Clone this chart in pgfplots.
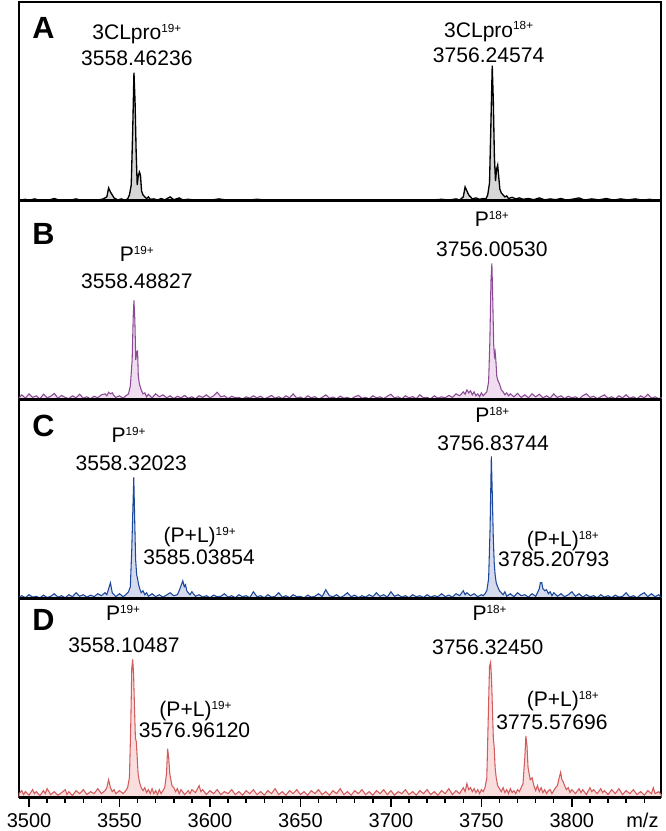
\documentclass[border=0pt]{standalone}
\usepackage{fontspec}
\setmainfont{Liberation Sans}
\usepackage{pgfplots}
\usepackage{pgfplotstable}
\pgfplotsset{compat=1.18}

\definecolor{fA}{RGB}{215,215,215}
\definecolor{cB}{RGB}{140,74,150}
\definecolor{fB}{RGB}{240,222,240}
\definecolor{cC}{RGB}{28,72,155}
\definecolor{fC}{RGB}{213,218,238}
\definecolor{cD}{RGB}{210,92,92}
\definecolor{fD}{RGB}{250,222,222}

\newcommand\sps[1]{\raisebox{5.3pt}{\fontsize{8.8}{9}\selectfont #1}}

% panel A: 3CLpro
\pgfplotstableread[row sep=\\]{
x y\\
3494.5 0.003\\ 3498 0.008\\ 3500 0.002\\ 3503 0.01\\ 3506 0.003\\ 3510 0.002\\ 3514 0.012\\ 3517 0.003\\
3522 0.002\\ 3526 0.01\\ 3529 0.002\\ 3534 0.003\\ 3538 0.004\\ 3541 0.01\\ 3543 0.02\\ 3544 0.065\\
3545 0.045\\ 3546 0.03\\ 3547 0.015\\ 3548 0.01\\ 3549 0.005\\ 3551 0.01\\ 3553 0.004\\ 3554.5 0.01\\
3555.5 0.03\\ 3556.5 0.08\\ 3557.3 0.35\\ 3558 0.645\\ 3558.6 0.5\\ 3559.2 0.25\\ 3559.8 0.08\\ 3560.3 0.12\\
3561 0.145\\ 3561.6 0.13\\ 3562.2 0.05\\ 3563 0.03\\ 3564 0.02\\ 3565 0.012\\ 3566 0.02\\ 3567 0.008\\
3569 0.01\\ 3571 0.004\\ 3573 0.012\\ 3575 0.005\\ 3578 0.02\\ 3580 0.006\\ 3583 0.015\\ 3585 0.005\\
3588 0.008\\ 3592 0.004\\ 3596 0.006\\ 3600 0.003\\ 3605 0.01\\ 3610 0.003\\ 3615 0.006\\ 3620 0.003\\
3626 0.008\\ 3632 0.003\\ 3638 0.004\\ 3644 0.003\\ 3650 0.006\\ 3656 0.003\\ 3662 0.005\\ 3668 0.003\\
3675 0.006\\ 3682 0.003\\ 3690 0.004\\ 3697 0.003\\ 3704 0.005\\ 3710 0.003\\ 3716 0.006\\ 3722 0.004\\
3728 0.008\\ 3732 0.004\\ 3736 0.01\\ 3738 0.005\\ 3740 0.02\\ 3741 0.07\\ 3742 0.05\\ 3743 0.03\\
3744 0.02\\ 3745 0.01\\ 3747 0.015\\ 3749 0.008\\ 3751 0.012\\ 3752.5 0.01\\ 3753.5 0.03\\ 3754.5 0.09\\
3755.3 0.4\\ 3756 0.68\\ 3756.6 0.5\\ 3757.2 0.22\\ 3757.8 0.1\\ 3758.4 0.16\\ 3759 0.18\\ 3759.6 0.12\\
3760.2 0.06\\ 3761 0.04\\ 3762 0.03\\ 3763 0.02\\ 3764 0.025\\ 3765 0.012\\ 3767 0.018\\ 3769 0.01\\
3771 0.015\\ 3773 0.008\\ 3776 0.012\\ 3779 0.006\\ 3782 0.015\\ 3785 0.005\\ 3788 0.01\\ 3791 0.006\\
3794 0.012\\ 3797 0.004\\ 3800 0.008\\ 3804 0.015\\ 3807 0.004\\ 3811 0.01\\ 3815 0.005\\ 3819 0.012\\
3823 0.004\\ 3827 0.01\\ 3831 0.005\\ 3835 0.01\\ 3839 0.004\\ 3843 0.008\\ 3846 0.003\\ 3849.3 0.005\\
}\tabA

% panel B: P
\pgfplotstableread[row sep=\\]{
x y\\
3494.5 0.01\\ 3496 0.025\\ 3498 0.008\\ 3500 0.03\\ 3502 0.012\\ 3504 0.02\\ 3506 0.005\\ 3508 0.028\\
3510 0.01\\ 3512 0.018\\ 3514 0.032\\ 3516 0.008\\ 3518 0.022\\ 3520 0.012\\ 3522 0.006\\ 3524 0.02\\
3526 0.01\\ 3528 0.028\\ 3530 0.008\\ 3532 0.015\\ 3534 0.005\\ 3536 0.018\\ 3538 0.01\\ 3540 0.025\\
3542 0.03\\ 3543 0.02\\ 3544 0.038\\ 3545 0.03\\ 3546 0.035\\ 3547 0.02\\ 3548 0.012\\ 3550 0.02\\
3552 0.008\\ 3553.5 0.02\\ 3555 0.03\\ 3556 0.07\\ 3557 0.2\\ 3557.6 0.42\\ 3558 0.5\\ 3558.5 0.4\\
3559 0.2\\ 3559.5 0.24\\ 3560 0.245\\ 3560.4 0.12\\ 3561 0.08\\ 3562 0.05\\ 3563 0.03\\ 3564 0.035\\
3565 0.015\\ 3566 0.028\\ 3568 0.01\\ 3570 0.03\\ 3572 0.015\\ 3574 0.025\\ 3576 0.01\\ 3578 0.02\\
3580 0.006\\ 3582 0.018\\ 3584 0.01\\ 3586 0.022\\ 3588 0.008\\ 3590 0.015\\ 3592 0.005\\ 3594 0.02\\
3596 0.012\\ 3598 0.025\\ 3600 0.01\\ 3602 0.02\\ 3604 0.038\\ 3606 0.015\\ 3608 0.02\\ 3610 0.006\\
3612 0.018\\ 3614 0.01\\ 3616 0.012\\ 3618 0.004\\ 3620 0.015\\ 3622 0.008\\ 3624 0.02\\ 3626 0.01\\
3628 0.018\\ 3630 0.005\\ 3632 0.012\\ 3634 0.022\\ 3636 0.008\\ 3638 0.015\\ 3640 0.006\\ 3642 0.02\\
3644 0.01\\ 3646 0.03\\ 3648 0.008\\ 3650 0.014\\ 3652 0.005\\ 3654 0.02\\ 3656 0.01\\ 3658 0.016\\
3660 0.004\\ 3662 0.012\\ 3664 0.025\\ 3666 0.008\\ 3668 0.014\\ 3670 0.005\\ 3672 0.018\\ 3674 0.008\\
3676 0.012\\ 3678 0.004\\ 3680 0.015\\ 3682 0.022\\ 3684 0.008\\ 3686 0.012\\ 3688 0.005\\ 3690 0.02\\
3692 0.01\\ 3694 0.015\\ 3696 0.006\\ 3698 0.018\\ 3700 0.028\\ 3702 0.01\\ 3704 0.015\\ 3706 0.005\\
3708 0.02\\ 3710 0.01\\ 3712 0.016\\ 3714 0.006\\ 3716 0.025\\ 3718 0.01\\ 3720 0.012\\ 3722 0.005\\
3724 0.02\\ 3726 0.008\\ 3728 0.015\\ 3730 0.01\\ 3732 0.022\\ 3734 0.012\\ 3736 0.03\\ 3738 0.02\\
3740 0.04\\ 3741 0.028\\ 3742 0.05\\ 3743 0.035\\ 3744 0.045\\ 3745 0.025\\ 3746 0.04\\ 3747 0.02\\
3748 0.03\\ 3749 0.015\\ 3750 0.035\\ 3751 0.02\\ 3752 0.03\\ 3753 0.04\\ 3754 0.09\\ 3754.7 0.3\\
3755.3 0.6\\ 3755.8 0.686\\ 3756.3 0.5\\ 3756.8 0.28\\ 3757.2 0.22\\ 3757.6 0.24\\ 3758 0.2\\ 3758.5 0.12\\
3759 0.1\\ 3760 0.08\\ 3761 0.05\\ 3762 0.04\\ 3763 0.025\\ 3764 0.035\\ 3765 0.02\\ 3766 0.03\\
3768 0.015\\ 3770 0.032\\ 3772 0.012\\ 3774 0.025\\ 3776 0.01\\ 3778 0.03\\ 3780 0.015\\ 3782 0.028\\
3784 0.01\\ 3786 0.02\\ 3788 0.008\\ 3790 0.03\\ 3792 0.012\\ 3794 0.02\\ 3796 0.006\\ 3798 0.018\\
3800 0.01\\ 3802 0.015\\ 3804 0.005\\ 3806 0.02\\ 3808 0.03\\ 3810 0.012\\ 3812 0.018\\ 3814 0.006\\
3816 0.015\\ 3818 0.025\\ 3820 0.008\\ 3822 0.015\\ 3824 0.005\\ 3826 0.02\\ 3828 0.01\\ 3830 0.025\\
3832 0.008\\ 3834 0.015\\ 3836 0.005\\ 3838 0.02\\ 3840 0.01\\ 3842 0.028\\ 3844 0.008\\ 3846 0.015\\
3848 0.006\\ 3849.3 0.01\\
}\tabB

% panel C: P + ligand
\pgfplotstableread[row sep=\\]{
x y\\
3494.5 0.008\\ 3496 0.015\\ 3498 0.005\\ 3500 0.02\\ 3502 0.008\\ 3504 0.012\\ 3506 0.004\\ 3508 0.018\\
3510 0.006\\ 3512 0.012\\ 3514 0.025\\ 3516 0.008\\ 3518 0.015\\ 3520 0.005\\ 3522 0.02\\ 3524 0.01\\
3526 0.03\\ 3528 0.012\\ 3530 0.02\\ 3532 0.008\\ 3534 0.018\\ 3536 0.01\\ 3538 0.025\\ 3540 0.015\\
3542 0.03\\ 3543 0.02\\ 3544 0.05\\ 3545 0.08\\ 3546 0.03\\ 3547 0.02\\ 3548 0.01\\ 3550 0.025\\
3552 0.01\\ 3553.5 0.02\\ 3555 0.035\\ 3556 0.06\\ 3556.8 0.25\\ 3557.4 0.45\\ 3557.9 0.61\\ 3558.4 0.4\\
3558.9 0.2\\ 3559.5 0.12\\ 3560 0.1\\ 3560.6 0.07\\ 3561.2 0.05\\ 3562 0.03\\ 3563 0.04\\ 3564 0.02\\
3565 0.03\\ 3566 0.012\\ 3568 0.025\\ 3570 0.01\\ 3572 0.02\\ 3574 0.008\\ 3576 0.018\\ 3578 0.03\\
3580 0.015\\ 3582 0.02\\ 3583 0.04\\ 3584 0.065\\ 3585 0.09\\ 3585.8 0.06\\ 3586.5 0.07\\ 3587.2 0.04\\
3588 0.03\\ 3589 0.02\\ 3590 0.035\\ 3592 0.012\\ 3594 0.02\\ 3596 0.008\\ 3598 0.015\\ 3600 0.005\\
3602 0.018\\ 3604 0.01\\ 3606 0.012\\ 3608 0.025\\ 3610 0.008\\ 3612 0.015\\ 3614 0.005\\ 3616 0.02\\
3618 0.01\\ 3620 0.015\\ 3622 0.005\\ 3624 0.035\\ 3626 0.01\\ 3628 0.015\\ 3630 0.005\\ 3632 0.02\\
3634 0.008\\ 3636 0.012\\ 3638 0.03\\ 3640 0.008\\ 3642 0.015\\ 3644 0.005\\ 3646 0.02\\ 3648 0.01\\
3650 0.012\\ 3652 0.004\\ 3654 0.018\\ 3656 0.008\\ 3658 0.012\\ 3660 0.025\\ 3662 0.01\\ 3664 0.045\\
3666 0.015\\ 3668 0.01\\ 3670 0.02\\ 3672 0.006\\ 3674 0.015\\ 3676 0.03\\ 3678 0.01\\ 3680 0.018\\
3682 0.005\\ 3684 0.015\\ 3686 0.008\\ 3688 0.02\\ 3690 0.01\\ 3692 0.03\\ 3694 0.012\\ 3696 0.02\\
3698 0.008\\ 3700 0.035\\ 3702 0.012\\ 3704 0.02\\ 3706 0.008\\ 3708 0.015\\ 3710 0.005\\ 3712 0.02\\
3714 0.01\\ 3716 0.015\\ 3718 0.006\\ 3720 0.02\\ 3722 0.008\\ 3724 0.015\\ 3726 0.01\\ 3728 0.025\\
3730 0.01\\ 3732 0.018\\ 3734 0.008\\ 3736 0.025\\ 3738 0.015\\ 3740 0.04\\ 3741 0.02\\ 3742 0.03\\
3744 0.015\\ 3746 0.025\\ 3748 0.01\\ 3750 0.02\\ 3751 0.015\\ 3752 0.025\\ 3753 0.04\\ 3754 0.1\\
3754.8 0.35\\ 3755.5 0.715\\ 3756.1 0.5\\ 3756.6 0.3\\ 3757.1 0.18\\ 3757.6 0.12\\ 3758.2 0.08\\ 3759 0.06\\
3760 0.04\\ 3761 0.03\\ 3762 0.02\\ 3763 0.035\\ 3764 0.012\\ 3766 0.025\\ 3768 0.01\\ 3770 0.03\\
3772 0.015\\ 3774 0.02\\ 3776 0.008\\ 3778 0.025\\ 3780 0.012\\ 3781 0.03\\ 3782 0.05\\ 3782.6 0.08\\
3783.4 0.08\\ 3784 0.05\\ 3785 0.04\\ 3786 0.045\\ 3787 0.025\\ 3788 0.035\\ 3789 0.015\\ 3790 0.03\\
3792 0.012\\ 3794 0.025\\ 3796 0.01\\ 3798 0.02\\ 3800 0.035\\ 3802 0.012\\ 3804 0.025\\ 3806 0.008\\
3808 0.02\\ 3810 0.01\\ 3812 0.015\\ 3814 0.005\\ 3816 0.02\\ 3818 0.008\\ 3820 0.015\\ 3822 0.005\\
3824 0.018\\ 3826 0.008\\ 3828 0.012\\ 3830 0.03\\ 3832 0.008\\ 3834 0.015\\ 3836 0.005\\ 3838 0.02\\
3840 0.03\\ 3842 0.01\\ 3844 0.025\\ 3846 0.01\\ 3848 0.02\\ 3849.3 0.008\\
}\tabC

% panel D: P + ligand
\pgfplotstableread[row sep=\\]{
x y\\
3494.5 0.02\\ 3496 0.035\\ 3497 0.015\\ 3498 0.03\\ 3500 0.012\\ 3502 0.04\\ 3503 0.02\\ 3504 0.03\\
3506 0.01\\ 3508 0.035\\ 3509 0.02\\ 3510 0.045\\ 3512 0.015\\ 3514 0.03\\ 3516 0.012\\ 3518 0.025\\
3520 0.04\\ 3521 0.015\\ 3522 0.03\\ 3524 0.01\\ 3526 0.035\\ 3528 0.02\\ 3530 0.04\\ 3532 0.015\\
3534 0.03\\ 3536 0.02\\ 3538 0.045\\ 3540 0.02\\ 3542 0.035\\ 3543 0.05\\ 3544 0.09\\ 3545 0.05\\
3546 0.03\\ 3547 0.04\\ 3548 0.02\\ 3550 0.035\\ 3552 0.02\\ 3553.5 0.035\\ 3554.5 0.05\\ 3555.5 0.1\\
3556.2 0.35\\ 3556.8 0.65\\ 3557.3 0.695\\ 3557.8 0.62\\ 3558.3 0.45\\ 3558.8 0.3\\ 3559.3 0.28\\ 3559.8 0.2\\
3560.3 0.12\\ 3561 0.08\\ 3562 0.05\\ 3563 0.035\\ 3564 0.05\\ 3565 0.025\\ 3566 0.04\\ 3567 0.02\\
3568 0.045\\ 3569 0.02\\ 3570 0.035\\ 3571 0.015\\ 3572 0.04\\ 3573 0.02\\ 3574 0.035\\ 3575 0.05\\
3576 0.12\\ 3576.6 0.246\\ 3577.2 0.2\\ 3577.8 0.12\\ 3578.4 0.09\\ 3579 0.06\\ 3580 0.05\\ 3581 0.03\\
3582 0.045\\ 3583 0.02\\ 3584 0.04\\ 3586 0.015\\ 3588 0.035\\ 3589 0.02\\ 3590 0.04\\ 3592 0.025\\
3594 0.06\\ 3595 0.03\\ 3596 0.04\\ 3598 0.015\\ 3600 0.035\\ 3602 0.02\\ 3604 0.04\\ 3606 0.015\\
3608 0.03\\ 3610 0.02\\ 3612 0.04\\ 3614 0.015\\ 3616 0.03\\ 3618 0.012\\ 3620 0.035\\ 3622 0.02\\
3624 0.04\\ 3626 0.015\\ 3628 0.03\\ 3630 0.012\\ 3632 0.035\\ 3634 0.02\\ 3636 0.045\\ 3638 0.015\\
3640 0.03\\ 3642 0.012\\ 3644 0.035\\ 3646 0.02\\ 3648 0.04\\ 3650 0.015\\ 3652 0.03\\ 3654 0.012\\
3656 0.035\\ 3658 0.02\\ 3660 0.04\\ 3662 0.015\\ 3664 0.03\\ 3666 0.012\\ 3668 0.035\\ 3670 0.02\\
3672 0.045\\ 3674 0.015\\ 3676 0.03\\ 3678 0.012\\ 3680 0.035\\ 3682 0.02\\ 3684 0.04\\ 3686 0.015\\
3688 0.03\\ 3690 0.012\\ 3692 0.035\\ 3694 0.02\\ 3696 0.04\\ 3698 0.015\\ 3700 0.035\\ 3702 0.012\\
3704 0.03\\ 3706 0.02\\ 3708 0.04\\ 3710 0.015\\ 3712 0.03\\ 3714 0.012\\ 3716 0.035\\ 3718 0.02\\
3720 0.04\\ 3722 0.015\\ 3724 0.03\\ 3726 0.012\\ 3728 0.035\\ 3730 0.02\\ 3732 0.045\\ 3734 0.015\\
3736 0.035\\ 3738 0.02\\ 3740 0.05\\ 3741 0.03\\ 3742 0.07\\ 3743 0.04\\ 3744 0.05\\ 3745 0.03\\
3746 0.045\\ 3747 0.025\\ 3748 0.04\\ 3749 0.02\\ 3750 0.04\\ 3751 0.03\\ 3752 0.05\\ 3753 0.1\\
3753.8 0.4\\ 3754.5 0.66\\ 3755.1 0.68\\ 3755.6 0.6\\ 3756.1 0.45\\ 3756.6 0.3\\ 3757.1 0.25\\ 3757.6 0.15\\
3758.2 0.1\\ 3759 0.06\\ 3760 0.045\\ 3761 0.03\\ 3762 0.05\\ 3763 0.025\\ 3764 0.04\\ 3765 0.02\\
3766 0.045\\ 3767 0.025\\ 3768 0.035\\ 3769 0.02\\ 3770 0.04\\ 3771 0.03\\ 3772 0.05\\ 3773 0.07\\
3774 0.2\\ 3774.6 0.31\\ 3775.2 0.26\\ 3775.8 0.15\\ 3776.4 0.12\\ 3777 0.09\\ 3778 0.1\\ 3779 0.06\\
3780 0.035\\ 3781 0.06\\ 3782 0.03\\ 3783 0.05\\ 3784 0.025\\ 3785 0.04\\ 3786 0.02\\ 3787 0.035\\
3788 0.04\\ 3789 0.02\\ 3790 0.035\\ 3791 0.05\\ 3792 0.06\\ 3793 0.1\\ 3793.8 0.127\\ 3794.5 0.09\\
3795.2 0.08\\ 3796 0.06\\ 3797 0.04\\ 3798 0.05\\ 3799 0.025\\ 3800 0.04\\ 3802 0.02\\ 3804 0.045\\
3805 0.025\\ 3806 0.04\\ 3808 0.015\\ 3810 0.05\\ 3811 0.03\\ 3812 0.04\\ 3814 0.02\\ 3816 0.045\\
3817 0.025\\ 3818 0.035\\ 3820 0.015\\ 3822 0.04\\ 3824 0.02\\ 3826 0.045\\ 3828 0.015\\ 3830 0.035\\
3832 0.02\\ 3834 0.04\\ 3836 0.015\\ 3838 0.03\\ 3840 0.012\\ 3842 0.035\\ 3844 0.02\\ 3845 0.05\\
3846 0.02\\ 3848 0.03\\ 3849.3 0.015\\
}\tabD

\pgfplotsset{
  panel/.style={scale only axis, width=481.5pt, height=149.16pt,
    xmin=3494.47, xmax=3849.3, ymin=0, ymax=1,
    xtick=\empty, ytick=\empty, clip=false,
    axis line style={line width=1.3pt}},
}
\tikzset{
  lab/.style={font=\fontsize{15.8}{18}\selectfont, anchor=base, inner sep=0pt},
  letter/.style={font=\fontsize{23}{26}\selectfont\bfseries, anchor=base, inner sep=0pt},
}

\begin{document}
\begin{tikzpicture}
\useasboundingbox (-14.25pt,1.5pt) rectangle (484.5pt,-621.7pt);

\begin{axis}[panel, name=A, at={(0pt,0pt)}, anchor=north west]
  \addplot[draw=black, fill=fA, line width=1pt] table[x=x,y=y]{\tabA} \closedcycle;
  \draw[line width=2.4pt] (rel axis cs:0,0) -- (rel axis cs:1,0);
  \node[letter] at (axis cs:3508,0.814) {A};
  \node[lab] at (axis cs:3559.6,0.809) {3CLpro\sps{19+}};
  \node[lab] at (axis cs:3559.6,0.683) {3558.46236};
  \node[lab] at (axis cs:3754,0.824) {3CLpro\sps{18+}};
  \node[lab] at (axis cs:3754,0.698) {3756.24574};
\end{axis}

\begin{axis}[panel, name=B, at={(A.south west)}, anchor=north west]
  \addplot[draw=cB, fill=fB, line width=0.8pt] table[x=x,y=y]{\tabB} \closedcycle;
  \draw[line width=2.4pt] (rel axis cs:0,0) -- (rel axis cs:1,0);
  \node[letter] at (axis cs:3508,0.779) {B};
  \node[lab] at (axis cs:3559.6,0.693) {P\sps{19+}};
  \node[lab] at (axis cs:3559.6,0.558) {3558.48827};
  \node[lab] at (axis cs:3755.8,0.869) {P\sps{18+}};
  \node[lab] at (axis cs:3755.8,0.718) {3756.00530};
\end{axis}

\begin{axis}[panel, name=C, at={(B.south west)}, anchor=north west]
  \addplot[draw=cC, fill=fC, line width=0.8pt] table[x=x,y=y]{\tabC} \closedcycle;
  \draw[line width=2.4pt] (rel axis cs:0,0) -- (rel axis cs:1,0);
  \node[letter] at (axis cs:3508,0.814) {C};
  \node[lab] at (axis cs:3555,0.784) {P\sps{19+}};
  \node[lab] at (axis cs:3556.5,0.643) {3558.32023};
  \node[lab] at (axis cs:3756,0.884) {P\sps{18+}};
  \node[lab] at (axis cs:3756.5,0.744) {3756.83744};
  \node[lab] at (axis cs:3594.3,0.281) {(P+L)\sps{19+}};
  \node[lab] at (axis cs:3594,0.170) {3585.03854};
  \node[lab] at (axis cs:3795,0.261) {(P+L)\sps{18+}};
  \node[lab] at (axis cs:3790,0.160) {3785.20793};
\end{axis}

\begin{axis}[panel, name=D, at={(C.south west)}, anchor=north west,
    xtick={3500,3550,3600,3650,3700,3750,3800},
    xticklabels={3500,3550,3600,3650,3700,3750,3800},
    minor xtick={3510,3520,...,3840},
    xtick pos=bottom, tick align=outside,
    major tick length=6.75pt, minor tick length=3.75pt,
    every tick/.style={black, line width=1.1pt},
    xticklabel style={font=\fontsize{15}{18}\selectfont, anchor=base, yshift=-15.35pt}]
  \addplot[draw=cD, fill=fD, line width=0.8pt] table[x=x,y=y]{\tabD} \closedcycle;
  \draw[line width=2.4pt] (rel axis cs:0,0) -- (rel axis cs:1,0);
  \node[letter] at (axis cs:3508,0.839) {D};
  \node[lab] at (axis cs:3552,0.889) {P\sps{19+}};
  \node[lab] at (axis cs:3552.5,0.728) {3558.10487};
  \node[lab] at (axis cs:3754.5,0.889) {P\sps{18+}};
  \node[lab] at (axis cs:3753.5,0.718) {3756.32450};
  \node[lab] at (axis cs:3592,0.407) {(P+L)\sps{19+}};
  \node[lab] at (axis cs:3591.5,0.300) {3576.96120};
  \node[lab] at (axis cs:3795,0.457) {(P+L)\sps{18+}};
  \node[lab] at (axis cs:3789,0.341) {3775.57696};
  \node[lab, font=\fontsize{15}{18}\selectfont, yshift=-22.1pt] at (axis cs:3839,0) {m/z};
\end{axis}
\end{tikzpicture}
\end{document}
